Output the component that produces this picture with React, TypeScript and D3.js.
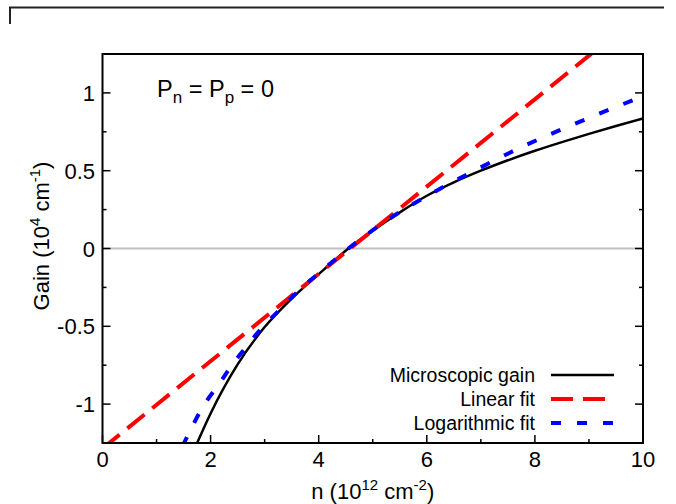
import React from "react";
import * as d3 from "d3";

const xMajorTicks = [0, 2, 4, 6, 8, 10];
const xMinorTicks = [1, 3, 5, 7, 9];
const yMajorTicks = [-1, -0.5, 0, 0.5, 1];
const yMinorTicks = [-0.75, -0.25, 0.25, 0.75];
const yTickLabels = ["-1", "-0.5", "0", "0.5", "1"];

// n (10^12 cm^-2), gain (10^4 cm^-1)
const microscopicN = [1.7, 2.0, 2.5, 3.0, 3.5, 4.0, 4.55, 5.0, 5.5, 6.0, 6.5, 7.0, 7.5, 8.0, 8.5, 9.0, 9.5, 10.0];
const microscopicG = [-1.29, -1.06, -0.745, -0.505, -0.322, -0.165, 0.0, 0.115, 0.232, 0.339, 0.425, 0.5, 0.567, 0.628, 0.684, 0.737, 0.787, 0.835];

const linearN = [0, 10];
const linearG = [-1.285, 1.52];

const logN = [1.48, 1.526, 1.865, 2.174, 2.359, 2.668, 2.975, 3.284, 3.654, 4.085, 4.55, 5.26, 6.12, 6.985, 7.785, 8.71, 10.0];
const logG = [-1.27, -1.238, -1.013, -0.863, -0.767, -0.628, -0.499, -0.392, -0.263, -0.135, 0.0, 0.18, 0.36, 0.519, 0.657, 0.797, 0.979];

const legendLabels = ["Microscopic gain", "Linear fit", "Logarithmic fit"];

const W = 676;
const H = 504;
const L = 102.5, R = 643, T = 54, B = 443;
const FONT = "'Liberation Sans', Arial, Helvetica, sans-serif";

export default function App() {
  const x = d3.scaleLinear().domain([0, 10]).range([L, R]);
  const y = d3.scaleLinear().domain([-1.25, 1.25]).range([B, T]);
  const line = d3
    .line<[number, number]>()
    .x((d) => x(d[0]))
    .y((d) => y(d[1]))
    .curve(d3.curveMonotoneX);
  const zip = (a: number[], b: number[]) => a.map((v, i) => [v, b[i]] as [number, number]);

  const series = [
    { pts: zip(microscopicN, microscopicG), color: "#000000", width: 2.5, dash: "none" },
    { pts: zip(linearN, linearG), color: "#ff0000", width: 4, dash: "22,10" },
    { pts: zip(logN, logG), color: "#0000ff", width: 4, dash: "10,16" },
  ];

  const legendY = [375, 399, 423];

  return (
    <svg
      width={W}
      height={H}
      style={{ position: "fixed", left: 0, top: 0, background: "#fff" }}
      fontFamily={FONT}
    >
      <rect x={0} y={0} width={W} height={H} fill="#fff" />
      {/* partial frame of adjacent panel */}
      <path d="M10,24 V7.5 H664" fill="none" stroke="#222" strokeWidth={2} />
      <defs>
        <clipPath id="plotclip">
          <rect x={L} y={T} width={R - L} height={B - T} />
        </clipPath>
      </defs>
      {/* zero line */}
      <line x1={L} x2={R} y1={y(0)} y2={y(0)} stroke="#c0c0c0" strokeWidth={2} />
      <g clipPath="url(#plotclip)">
        {series.map((s, i) => (
          <path
            key={i}
            d={line(s.pts) || ""}
            fill="none"
            stroke={s.color}
            strokeWidth={s.width}
            strokeDasharray={s.dash}
          />
        ))}
      </g>
      {/* frame */}
      <rect x={L} y={T} width={R - L} height={B - T} fill="none" stroke="#000" strokeWidth={2} />
      {/* x ticks */}
      {xMajorTicks.map((t) => (
        <g key={"xm" + t}>
          <line x1={x(t)} x2={x(t)} y1={B} y2={B - 8} stroke="#000" strokeWidth={1.5} />
          <text x={x(t)} y={467} fontSize={22} textAnchor="middle">
            {t}
          </text>
        </g>
      ))}
      {xMinorTicks.map((t) => (
        <line key={"xn" + t} x1={x(t)} x2={x(t)} y1={B} y2={B - 4} stroke="#000" strokeWidth={1.5} />
      ))}
      {/* y ticks */}
      {yMajorTicks.map((t, i) => (
        <g key={"ym" + t}>
          <line x1={L} x2={L + 8} y1={y(t)} y2={y(t)} stroke="#000" strokeWidth={1.5} />
          <line x1={R} x2={R - 8} y1={y(t)} y2={y(t)} stroke="#000" strokeWidth={1.5} />
          <text x={95} y={y(t) + 8} fontSize={22} textAnchor="end">
            {yTickLabels[i]}
          </text>
        </g>
      ))}
      {yMinorTicks.map((t) => (
        <g key={"yn" + t}>
          <line x1={L} x2={L + 4} y1={y(t)} y2={y(t)} stroke="#000" strokeWidth={1.5} />
          <line x1={R} x2={R - 4} y1={y(t)} y2={y(t)} stroke="#000" strokeWidth={1.5} />
        </g>
      ))}
      {/* axis titles */}
      <text x={(L + R) / 2} y={499} fontSize={22} textAnchor="middle">
        n (10<tspan fontSize={15} dy={-9}>12</tspan>
        <tspan dy={9}> cm</tspan>
        <tspan fontSize={15} dy={-9}>-2</tspan>
        <tspan dy={9}>)</tspan>
      </text>
      <text transform="translate(49,236) rotate(-90)" fontSize={22} textAnchor="middle">
        Gain (10<tspan fontSize={15} dy={-9}>4</tspan>
        <tspan dy={9}> cm</tspan>
        <tspan fontSize={15} dy={-9}>-1</tspan>
        <tspan dy={9}>)</tspan>
      </text>
      {/* annotation */}
      <text x={157} y={97} fontSize={23.5}>
        P<tspan fontSize={17} dy={6}>n</tspan>
        <tspan dy={-6}> = P</tspan>
        <tspan fontSize={17} dy={6}>p</tspan>
        <tspan dy={-6}> = 0</tspan>
      </text>
      {/* legend */}
      {series.map((s, i) => (
        <g key={"lg" + i}>
          <text x={535} y={legendY[i] + 7} fontSize={19.5} textAnchor="end">
            {legendLabels[i]}
          </text>
          <line
            x1={551}
            x2={614}
            y1={legendY[i]}
            y2={legendY[i]}
            stroke={s.color}
            strokeWidth={s.width}
            strokeDasharray={s.dash}
          />
        </g>
      ))}
    </svg>
  );
}
